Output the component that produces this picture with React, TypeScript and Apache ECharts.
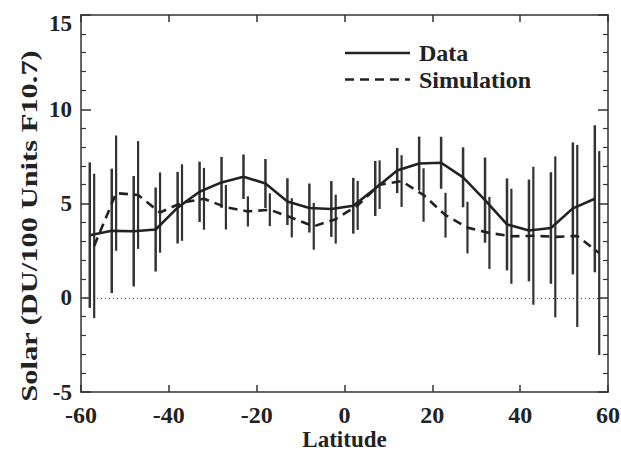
import React, { useEffect, useRef } from "react";
import * as echarts from "echarts";

const dataLat = [-58, -53, -48, -43, -38, -33, -28, -23, -18, -13, -8, -3, 2, 7, 12, 17, 22, 27, 32, 37, 42, 47, 52, 57];
const dataVal = [3.32, 3.55, 3.53, 3.62, 4.78, 5.62, 6.12, 6.42, 6.06, 5.1, 4.76, 4.71, 4.88, 5.8, 6.75, 7.12, 7.16, 6.39, 5.18, 3.89, 3.57, 3.7, 4.74, 5.25];
const dataErr = [3.86, 3.3, 2.93, 2.23, 1.9, 1.6, 1.35, 1.18, 1.3, 1.24, 1.3, 1.48, 1.48, 1.46, 1.2, 1.43, 1.38, 1.59, 2.26, 2.44, 2.7, 2.96, 3.5, 3.9];

const simLat = [-57, -52, -47, -42, -37, -32, -27, -22, -17, -12, -7, -2, 3, 8, 13, 18, 23, 28, 33, 38, 43, 48, 53, 58];
const simVal = [2.75, 5.55, 5.45, 4.52, 5.05, 5.25, 4.8, 4.58, 4.67, 4.24, 3.79, 4.17, 4.9, 6.0, 6.19, 5.45, 4.38, 3.72, 3.44, 3.26, 3.29, 3.23, 3.28, 2.37];
const simErr = [3.83, 3.06, 2.86, 2.13, 2.03, 1.64, 1.18, 0.8, 0.87, 1.04, 1.24, 1.3, 1.3, 1.29, 1.37, 1.42, 1.19, 1.37, 1.91, 2.52, 3.66, 4.27, 4.83, 5.41];

const seriesNames = ["Data", "Simulation"];
const xTitle = "Latitude";
const yTitle = "Solar (DU/100 Units F10.7)";

const FONT = "Liberation Serif";
const INK = "#222";
const DASH = [9, 6];

function errorBarSeries(name: string, lat: number[], val: number[], err: number[], width: number) {
  return {
    type: "custom",
    name,
    silent: true,
    z: 1,
    encode: { x: 0, y: 1 },
    data: lat.map((l, i) => [l, val[i], err[i]]),
    renderItem: (params: any, api: any) => {
      const x = api.value(0);
      const v = api.value(1);
      const e = api.value(2);
      const p1 = api.coord([x, v - e]);
      const p2 = api.coord([x, v + e]);
      return {
        type: "line",
        shape: { x1: p1[0], y1: p1[1], x2: p2[0], y2: p2[1] },
        style: { stroke: "#333", lineWidth: width },
      };
    },
  };
}

export default function App() {
  const ref = useRef<HTMLDivElement>(null);
  useEffect(() => {
    if (!ref.current) return;
    const chart = echarts.init(ref.current, null, { renderer: "svg" });
    const axisLine = { show: true, onZero: false, lineStyle: { color: "#333", width: 1.5 } };
    const labelStyle = { fontFamily: FONT, fontWeight: "bold", fontSize: 24, color: INK };
    const legendGraphic: any[] = [];
    seriesNames.forEach((n, i) => {
      const y = 53 + i * 26.5;
      legendGraphic.push({
        type: "line",
        shape: { x1: 345, y1: y, x2: 410, y2: y },
        style: { stroke: INK, lineWidth: 2.6, lineDash: i === 0 ? null : DASH },
      });
      legendGraphic.push({
        type: "text",
        x: 419,
        y,
        style: {
          text: n,
          font: `bold 24px ${FONT}`,
          fill: INK,
          textAlign: "left",
          textVerticalAlign: "middle",
        },
      });
    });
    chart.setOption({
      animation: false,
      backgroundColor: "#fff",
      grid: { left: 81, right: 13, top: 15, bottom: 59, containLabel: false, outerBoundsMode: "none" },
      xAxis: [
        {
          type: "value",
          min: -60,
          max: 60,
          interval: 20,
          position: "bottom",
          axisLine,
          axisTick: { show: true, inside: true, length: 7, lineStyle: { color: "#333", width: 1.5 } },
          axisLabel: { ...labelStyle, margin: 11 },
          splitLine: { show: false },
          name: xTitle,
          nameLocation: "middle",
          nameGap: 36,
          nameMoveOverlap: false,
          nameTextStyle: { ...labelStyle, fontSize: 23 },
        },
        {
          type: "value",
          min: -60,
          max: 60,
          interval: 20,
          position: "top",
          axisLine,
          axisTick: { show: true, inside: true, length: 7, lineStyle: { color: "#333", width: 1.5 } },
          axisLabel: { show: false },
          splitLine: { show: false },
        },
      ],
      yAxis: [
        {
          type: "value",
          min: -5,
          max: 15,
          interval: 5,
          position: "left",
          axisLine,
          axisTick: { show: true, inside: true, length: 10, lineStyle: { color: "#333", width: 1.5 } },
          minorTick: { show: true, splitNumber: 5, length: 5, lineStyle: { color: "#333", width: 1.2 } },
          axisLabel: {
            ...labelStyle,
            fontSize: 23,
            margin: 9,
            formatter: (v: number) => (v === 15 ? "{top|15}" : String(v)),
            rich: { top: { ...labelStyle, fontSize: 23, padding: [16, 0, 0, 0] } },
          },
          splitLine: { show: false },
        },
        {
          type: "value",
          min: -5,
          max: 15,
          interval: 5,
          position: "right",
          axisLine,
          axisTick: { show: true, inside: true, length: 10, lineStyle: { color: "#333", width: 1.5 } },
          minorTick: { show: true, splitNumber: 5, length: 5, lineStyle: { color: "#333", width: 1.2 } },
          axisLabel: { show: false },
          splitLine: { show: false },
        },
      ],
      graphic: [
        {
          type: "text",
          x: 29,
          y: 226,
          rotation: Math.PI / 2,
          scaleX: 1.27,
          style: {
            text: yTitle,
            font: `bold 24px ${FONT}`,
            fill: INK,
            textAlign: "center",
            textVerticalAlign: "middle",
          },
        },
        ...legendGraphic,
      ],
      series: [
        errorBarSeries("dataErr", dataLat, dataVal, dataErr, 2.5),
        errorBarSeries("simErr", simLat, simVal, simErr, 2.2),
        {
          type: "line",
          name: seriesNames[0],
          data: dataLat.map((l, i) => [l, dataVal[i]]),
          symbol: "none",
          showSymbol: false,
          z: 3,
          lineStyle: { color: INK, width: 2.6, type: "solid" },
          itemStyle: { color: INK },
          markLine: {
            silent: true,
            symbol: "none",
            label: { show: false },
            lineStyle: { color: "#444", width: 1, type: [1, 3] },
            data: [{ yAxis: 0 }],
          },
        },
        {
          type: "line",
          name: seriesNames[1],
          data: simLat.map((l, i) => [l, simVal[i]]),
          symbol: "none",
          showSymbol: false,
          z: 3,
          lineStyle: { color: INK, width: 2.6, type: DASH },
          itemStyle: { color: INK },
        },
      ],
    });
    return () => chart.dispose();
  }, []);
  return <div ref={ref} style={{ width: 621, height: 451, position: "fixed", left: 0, top: 0 }} />;
}
